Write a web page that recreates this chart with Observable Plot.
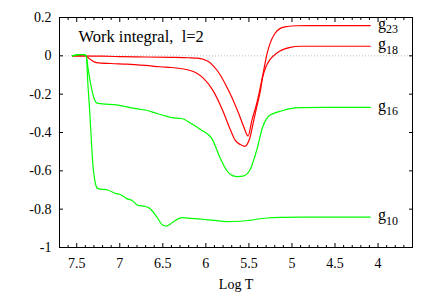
<!DOCTYPE html>
<html><head><meta charset="utf-8">
<script src="https://cdn.jsdelivr.net/npm/d3@7"></script>
<script src="https://cdn.jsdelivr.net/npm/@observablehq/plot@0.6"></script>
<style>
html,body{margin:0;padding:0;background:#fff}
</style>
</head><body><div id="chart"></div>
<script>
// ---- data (x = Log T, y = work integral) ----
const g23X = [7.55, 7.42, 7.2, 7.0, 6.7, 6.4, 6.2, 6.1, 6.03, 5.97, 5.92, 5.88, 5.84, 5.76, 5.70, 5.62, 5.56, 5.51, 5.465, 5.41, 5.37, 5.33, 5.29, 5.25, 5.2, 5.14, 5.05, 4.95, 4.8, 4.5, 4.09];
const g23Y = [0, 0, -0.002, -0.004, -0.006, -0.008, -0.010, -0.012, -0.018, -0.03, -0.05, -0.07, -0.095, -0.16, -0.215, -0.30, -0.37, -0.419, -0.335, -0.25, -0.17, -0.08, 0.01, 0.07, 0.115, 0.142, 0.153, 0.157, 0.158, 0.158, 0.158];

const g18X = [7.55, 7.40, 7.36, 7.32, 7.27, 7.1, 6.92, 6.7, 6.53, 6.4, 6.3, 6.19, 6.1, 6.03, 5.92, 5.80, 5.72, 5.66, 5.60, 5.55, 5.49, 5.45, 5.41, 5.37, 5.34, 5.30, 5.26, 5.2, 5.14, 5.02, 4.9, 4.6, 4.09];
const g18Y = [0, 0, -0.012, -0.025, -0.035, -0.040, -0.043, -0.050, -0.057, -0.061, -0.066, -0.075, -0.092, -0.116, -0.179, -0.29, -0.38, -0.44, -0.463, -0.472, -0.43, -0.35, -0.268, -0.19, -0.111, -0.055, -0.022, 0.005, 0.025, 0.044, 0.050, 0.050, 0.050];

const g16X = [7.55, 7.47, 7.42, 7.39, 7.37, 7.35, 7.33, 7.31, 7.29, 7.27, 7.25, 7.02, 6.83, 6.69, 6.57, 6.50, 6.40, 6.28, 6.17, 6.05, 5.93, 5.84, 5.76, 5.69, 5.63, 5.57, 5.49, 5.41, 5.34, 5.28, 5.21, 5.14, 5.02, 4.9, 4.6, 4.09];
const g16Y = [0, 0.006, 0.006, 0, -0.06, -0.116, -0.165, -0.205, -0.232, -0.245, -0.248, -0.257, -0.274, -0.284, -0.301, -0.31, -0.322, -0.327, -0.353, -0.388, -0.432, -0.527, -0.597, -0.625, -0.63, -0.628, -0.597, -0.493, -0.371, -0.319, -0.30, -0.29, -0.275, -0.27, -0.269, -0.269];

const g10X = [7.55, 7.47, 7.42, 7.39, 7.37, 7.35, 7.33, 7.31, 7.29, 7.27, 7.25, 7.14, 7.04, 7.0, 6.92, 6.86, 6.79, 6.71, 6.65, 6.57, 6.50, 6.46, 6.38, 6.28, 6.17, 6.01, 5.9, 5.76, 5.6, 5.49, 5.29, 5.1, 4.9, 4.6, 4.09];
const g10Y = [0, 0.006, 0.006, 0, -0.15, -0.284, -0.44, -0.58, -0.649, -0.685, -0.693, -0.70, -0.719, -0.722, -0.745, -0.754, -0.78, -0.785, -0.797, -0.84, -0.884, -0.888, -0.867, -0.844, -0.848, -0.854, -0.858, -0.865, -0.863, -0.858, -0.846, -0.843, -0.842, -0.842, -0.842];

const seriesNames = ["23", "18", "16", "10"];
const seriesColors = ["#ff0000", "#ff0000", "#00ff00", "#00ff00"];
const labelX = 4.0;

const xMajor = [7.5, 7, 6.5, 6, 5.5, 5, 4.5, 4];
const xMinor = [7.7, 7.6, 7.4, 7.3, 7.2, 7.1, 6.9, 6.8, 6.7, 6.6, 6.4, 6.3, 6.2, 6.1, 5.9, 5.8, 5.7, 5.6, 5.4, 5.3, 5.2, 5.1, 4.9, 4.8, 4.7, 4.6, 4.4, 4.3, 4.2, 4.1, 3.9, 3.8, 3.7, 3.6];
const yMajor = [0.2, 0, -0.2, -0.4, -0.6, -0.8, -1];

const titleText = "Work integral,\u00a0 l=2";
const xLabel = "Log T";

// ---- build table ----
const allX = [g23X, g18X, g16X, g10X];
const allY = [g23Y, g18Y, g16Y, g10Y];
const rows = [];
allX.forEach((xs, s) => xs.forEach((x, i) => rows.push({series: seriesNames[s], x, y: allY[s][i]})));
const labels = seriesNames.map((n, s) => ({sub: n, x: labelX, y: allY[s][allY[s].length - 1]}));

const blank = () => "";
const chart = Plot.plot({
  width: 437, height: 306,
  marginLeft: 59, marginRight: 25, marginTop: 17, marginBottom: 59,
  style: {fontFamily: '"Liberation Serif", "DejaVu Serif", serif', fontSize: "14px", background: "#fff", color: "#000"},
  x: {domain: [7.7, 3.6]},
  y: {domain: [-1, 0.2]},
  color: {domain: seriesNames, range: seriesColors},
  marks: [
    Plot.ruleY([0], {stroke: "#aaa", strokeWidth: 0.8, strokeDasharray: "1,2"}),
    Plot.line(rows, {x: "x", y: "y", z: "series", stroke: "series", strokeWidth: 1.2, curve: "monotone-x"}),
    Plot.frame({stroke: "#000", strokeWidth: 1}),
    // tick labels
    Plot.axisX({anchor: "bottom", ticks: xMajor, tickSize: 0, tickPadding: 11, tickFormat: d => String(d), label: null}),
    Plot.axisY({anchor: "left", ticks: yMajor, tickSize: 0, tickPadding: 8, tickFormat: d => String(d), label: null}),
    // inward tick marks
    Plot.axisX({anchor: "bottom", ticks: xMajor, tickSize: 4, dy: -4, tickFormat: blank, label: null}),
    Plot.axisX({anchor: "top", ticks: xMajor, tickSize: 4, dy: 4, tickFormat: blank, label: null}),
    Plot.axisX({anchor: "bottom", ticks: xMinor, tickSize: 2, dy: -2, tickFormat: blank, label: null}),
    Plot.axisX({anchor: "top", ticks: xMinor, tickSize: 2, dy: 2, tickFormat: blank, label: null}),
    Plot.axisY({anchor: "left", ticks: yMajor, tickSize: 4, dx: 4, tickFormat: blank, label: null}),
    Plot.axisY({anchor: "right", ticks: yMajor, tickSize: 4, dx: -4, tickFormat: blank, label: null}),
    // title and axis label
    Plot.text([titleText], {frameAnchor: "top-left", dx: 19, dy: 19.5, textAnchor: "start", lineAnchor: "middle", fontSize: 16.5, text: d => d}),
    Plot.text([xLabel], {frameAnchor: "bottom", dy: 37, lineAnchor: "middle", fontSize: 14, text: d => d}),
    // curve labels
    Plot.text(labels, {x: "x", y: "y", text: () => "g", textAnchor: "start", dy: -2, fontSize: 16}),
    Plot.text(labels, {x: "x", y: "y", text: "sub", textAnchor: "start", dx: 8, dy: 4, fontSize: 12})
  ]
});
document.getElementById("chart").appendChild(chart);
</script>
</body></html>
